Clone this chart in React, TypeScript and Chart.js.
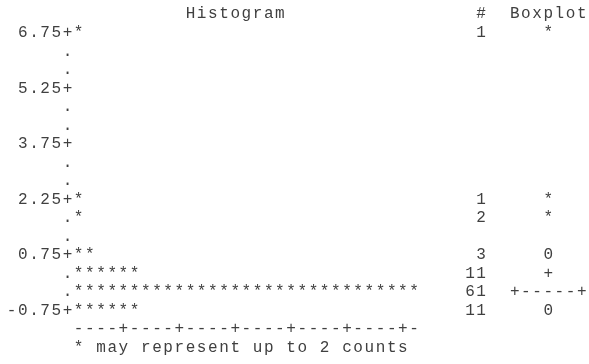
import React, { useEffect, useRef } from "react";
import { Chart, registerables } from "chart.js";

Chart.register(...registerables);

// ---- data ----
const binMidpoints = [
  "6.75", "6.25", "5.75", "5.25", "4.75", "4.25", "3.75", "3.25",
  "2.75", "2.25", "1.75", "1.25", "0.75", "0.25", "-0.25", "-0.75",
];
const labeledBins = ["6.75", "5.25", "3.75", "2.25", "0.75", "-0.75"];
const counts = [1, 0, 0, 0, 0, 0, 0, 0, 0, 1, 2, 0, 3, 11, 61, 11];
const boxplotMarks = [
  "*", "", "", "", "", "", "", "", "", "*", "*", "", "0", "+", "+-----+", "0",
];
const countsPerStar = 2;
const titleText = "Histogram";
const countHeader = "#";
const boxHeader = "Boxplot";
const noteText = "* may represent up to 2 counts";

// ---- text grid geometry ----
const CH = 11.18; // character cell width
const X0 = 6; // left of column 0
const ROW_H = 18.53;
const BASE_OFF = 5; // baseline below band centre
const BAR_COL = 6; // first star column
const COUNT_END_COL = 42;
const BOX_COL = 45;
const TITLE_COL = 16;
const FONT = "16px 'Liberation Mono', 'DejaVu Sans Mono', monospace";
const INK = "#404040";

const maxStars = Math.ceil(Math.max(...counts) / countsPerStar);
const xMax = maxStars * countsPerStar;

const cellX = (col: number) => X0 + CH * (col + 0.5);

const textPlugin = {
  id: "sasText",
  afterDatasetsDraw(chart: any) {
    const ctx = chart.ctx as CanvasRenderingContext2D;
    const xs = chart.scales.x;
    const ys = chart.scales.y;
    const rowH = ys.getPixelForValue(1) - ys.getPixelForValue(0);
    const baseAt = (i: number) => ys.getPixelForValue(0) + rowH * i + BASE_OFF;
    const put = (s: string, col: number, y: number) => {
      for (let i = 0; i < s.length; i++) {
        if (s[i] !== " ") ctx.fillText(s[i], cellX(col + i), y);
      }
    };
    ctx.save();
    ctx.font = FONT;
    ctx.fillStyle = INK;
    ctx.textAlign = "center";
    ctx.textBaseline = "alphabetic";

    // header
    const yh = baseAt(-1);
    put(titleText, TITLE_COL, yh);
    put(countHeader, COUNT_END_COL, yh);
    put(boxHeader, BOX_COL, yh);

    const meta = chart.getDatasetMeta(0);
    binMidpoints.forEach((b, i) => {
      const el = meta.data[i];
      const yb = el.y + BASE_OFF;
      // axis label
      const lab = labeledBins.includes(b) ? b + "+" : ".";
      put(lab, BAR_COL - lab.length, yb);
      // stars
      const v = counts[i];
      const n = Math.ceil(v / countsPerStar);
      for (let k = 0; k < n; k++) {
        const x = xs.getPixelForValue(countsPerStar * k + countsPerStar / 2);
        ctx.fillText("*", x, yb);
      }
      // count
      if (v > 0) {
        const s = String(v);
        put(s, COUNT_END_COL + 1 - s.length, yb);
      }
      // boxplot
      const bm = boxplotMarks[i];
      if (bm) {
        if (bm.length === 1) put(bm, BOX_COL + 3, yb);
        else put(bm, BOX_COL, yb);
      }
    });

    // horizontal axis line
    const ya = baseAt(binMidpoints.length);
    for (let j = 0; j < maxStars; j++) {
      const x = xs.getPixelForValue(countsPerStar * j + countsPerStar / 2);
      ctx.fillText((j + 1) % 5 === 0 ? "+" : "-", x, ya);
    }
    // note
    put(noteText, BAR_COL, baseAt(binMidpoints.length + 1));
    ctx.restore();
  },
};

export default function App() {
  const ref = useRef<HTMLCanvasElement | null>(null);
  useEffect(() => {
    if (!ref.current) return;
    const W = 589;
    const H = 364;
    const left = X0 + CH * BAR_COL;
    const right = W - (left + CH * maxStars);
    const top = 37 - ROW_H * 0.5 - BASE_OFF;
    const bottom = H - top - ROW_H * binMidpoints.length;
    const chart = new Chart(ref.current, {
      type: "bar",
      data: {
        labels: binMidpoints,
        datasets: [
          {
            data: counts,
            backgroundColor: "rgba(0,0,0,0)",
            borderWidth: 0,
          },
        ],
      },
      options: {
        indexAxis: "y",
        responsive: false,
        animation: false,
        events: [],
        layout: { padding: { left, right, top, bottom } },
        plugins: {
          legend: { display: false },
          tooltip: { enabled: false },
        },
        scales: {
          x: { type: "linear", min: 0, max: xMax, display: false },
          y: { type: "category", display: false, offset: true },
        },
      },
      plugins: [textPlugin],
    });
    return () => chart.destroy();
  }, []);
  return (
    <div style={{ position: "absolute", left: 0, top: 0, width: 589, height: 364, background: "#fff" }}>
      <canvas ref={ref} width={589} height={364} style={{ display: "block", width: 589, height: 364 }} />
    </div>
  );
}
